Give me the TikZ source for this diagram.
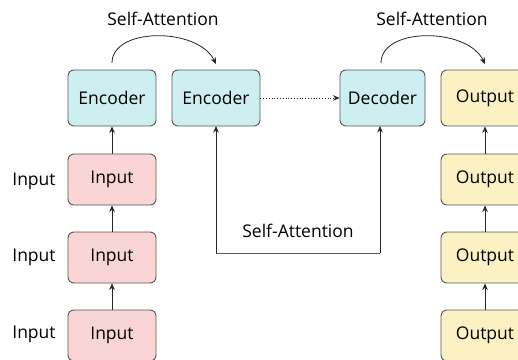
\documentclass[tikz,border=0pt]{standalone}
\usepackage{fontspec}
\setmainfont{Open Sans}
\usetikzlibrary{arrows.meta}
\definecolor{encfill}{HTML}{CDEFF2}
\definecolor{infill}{HTML}{F9D5D6}
\definecolor{outfill}{HTML}{FCF1C2}
\definecolor{edge}{HTML}{555555}
\tikzset{
  blk/.style={draw=edge, line width=0.9pt, rounded corners=6pt, minimum width=88pt,
    minimum height=56pt, inner sep=0pt, font=\fontsize{17.5}{19}\selectfont},
  enc/.style={blk, fill=encfill},
  inp/.style={blk, fill=infill, minimum height=51pt},
  outp/.style={blk, fill=outfill, minimum height=51pt},
  lbl/.style={font=\fontsize{17.5}{19}\selectfont, inner sep=0pt},
  conn/.style={draw=black!85, line width=0.8pt, -{Stealth[length=6.5pt,width=5.5pt]}},
}
\begin{document}
\begin{tikzpicture}[x=1pt,y=-1pt]
\useasboundingbox (0,0) rectangle (518,359);

% top row
\node[enc] (enc1) at (112,98) {Encoder};
\node[enc] (enc2) at (216,98) {Encoder};
\node[enc, minimum width=85pt] (dec) at (382.5,98) {Decoder};
\node[outp, minimum height=56pt] (out1) at (485,98) {Output};

% input column
\node[inp] (in1) at (112,179.5) {Input};
\node[inp] (in2) at (112,257.5) {Input};
\node[inp] (in3) at (112,335.5) {Input};
\node[lbl] (l1) at (34,181) {Input};
\node[lbl] (l2) at (34,257) {Input};
\node[lbl] (l3) at (34,334) {Input};

% output column
\node[outp] (out2) at (485,179.5) {Output};
\node[outp] (out3) at (485,257.5) {Output};
\node[outp] (out4) at (485,335.5) {Output};

% vertical flow
\draw[conn] (in1.north) -- (enc1.south);
\draw[conn] (in2.north) -- (in1.south);
\draw[conn] (in3.north) -- (in2.south);
\draw[conn] (out2.north) -- (out1.south);
\draw[conn] (out3.north) -- (out2.south);
\draw[conn] (out4.north) -- (out3.south);

% self-attention arcs
\coordinate (a1) at (112,63);
\coordinate (a2) at (216,64);
\draw[conn] (a1) .. controls (112,27) and (198,27) .. (a2);
\node[lbl] (sa1) at (163,19) {Self-Attention};
\coordinate (b1) at (381,63);
\coordinate (b2) at (485,64);
\draw[conn] (b1) .. controls (381,27) and (467,27) .. (b2);
\node[lbl] (sa2) at (432,19) {Self-Attention};

% encoder to decoder
\draw[conn, dotted] (enc2.east) -- (dec.west);

% cross path below
\coordinate (c1) at (216,253);
\coordinate (c2) at (380,253);
\draw[draw=edge, line width=0.8pt] (c1) -- (c2);
\draw[conn] (c1) -- (216,126);
\draw[conn] (c2) -- (380,126);
\node[lbl] (sa3) at (298,231) {Self-Attention};
\end{tikzpicture}
\end{document}
